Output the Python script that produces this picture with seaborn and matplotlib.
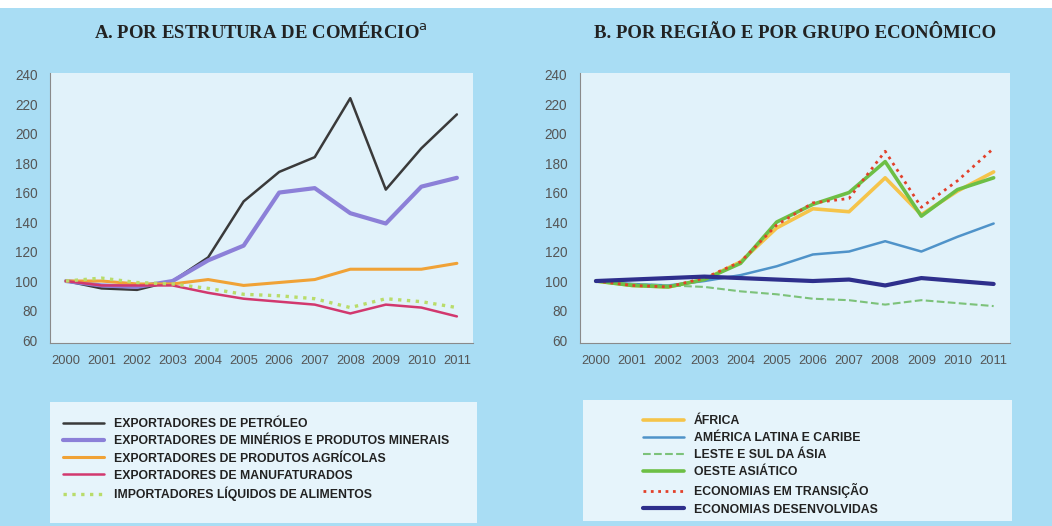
import numpy as np
import pandas as pd
import seaborn as sns
import matplotlib.pyplot as plt
from matplotlib.patches import Rectangle

years = list(range(2000, 2012))

# painel A - por estrutura de comercio
petroleo = [100, 95, 94, 100, 116, 154, 174, 184, 224, 162, 190, 213]
minerais = [100, 97, 96, 100, 114, 124, 160, 163, 146, 139, 164, 170]
agricolas = [100, 100, 98, 98, 101, 97, 99, 101, 108, 108, 108, 112]
manufaturados = [100, 97, 97, 97, 92, 88, 86, 84, 78, 84, 82, 76]
alimentos = [100, 102, 99, 98, 95, 91, 90, 88, 82, 88, 86, 82]

# painel B - por regiao e grupo economico
africa = [100, 97, 96, 101, 113, 136, 149, 147, 170, 145, 161, 174]
america_latina = [100, 98, 97, 100, 104, 110, 118, 120, 127, 120, 130, 139]
leste_asia = [100, 98, 97, 96, 93, 91, 88, 87, 84, 87, 85, 83]
oeste_asia = [100, 97, 96, 101, 112, 140, 152, 160, 181, 144, 162, 170]
transicao = [100, 97, 96, 102, 113, 138, 153, 156, 188, 150, 168, 190]
desenvolvidas = [100, 101, 102, 103, 102, 101, 100, 101, 97, 102, 100, 98]

labels_a = ["EXPORTADORES DE PETRÓLEO",
            "EXPORTADORES DE MINÉRIOS E PRODUTOS MINERAIS",
            "EXPORTADORES DE PRODUTOS AGRÍCOLAS",
            "EXPORTADORES DE MANUFATURADOS",
            "IMPORTADORES LÍQUIDOS DE ALIMENTOS"]
labels_b = ["ÁFRICA", "AMÉRICA LATINA E CARIBE", "LESTE E SUL DA ÁSIA",
            "OESTE ASIÁTICO", "ECONOMIAS EM TRANSIÇÃO", "ECONOMIAS DESENVOLVIDAS"]
yticks = [60, 80, 100, 120, 140, 160, 180, 200, 220, 240]

sns.set_theme(style="white")
plt.rcParams['font.family'] = ['Liberation Sans', 'DejaVu Sans']

bg = "#a9ddf4"
panel = "#e1f2fa"

fig = plt.figure(figsize=(10.52, 5.26), dpi=100, facecolor=bg)
fig.patches.append(Rectangle((0, 1 - 8 / 526), 1, 8 / 526, transform=fig.transFigure,
                             facecolor="white", edgecolor="none", zorder=0))

ax_a = fig.add_axes([0.0475, 0.348, 0.402, 0.513])
ax_b = fig.add_axes([0.551, 0.348, 0.409, 0.513])
leg_a = fig.add_axes([0.0475, 0.006, 0.406, 0.23])
leg_b = fig.add_axes([0.554, 0.010, 0.408, 0.23])

series_a = [
    (petroleo, "#3a3a3a", "-", 1.8),
    (minerais, "#8c80d8", "-", 3.0),
    (agricolas, "#f0a236", "-", 2.2),
    (manufaturados, "#d2386e", "-", 1.8),
    (alimentos, "#b9dc6a", ":", 2.4),
]
series_b = [
    (africa, "#f5c44a", "-", 2.6),
    (america_latina, "#4f93c9", "-", 1.8),
    (leste_asia, "#7cc27a", "--", 1.5),
    (oeste_asia, "#6dbf45", "-", 2.6),
    (transicao, "#e2402a", ":", 2.0),
    (desenvolvidas, "#2e2f8c", "-", 3.0),
]


def draw_panel(ax, series, labels, title):
    ax.set_facecolor(panel)
    for (vals, color, ls, lw), lab in zip(series, labels):
        df = pd.DataFrame({"ano": years, "valor": vals})
        sns.lineplot(data=df, x="ano", y="valor", ax=ax, color=color,
                     linestyle=ls, linewidth=lw, label=lab, legend=False)
    ax.set_xlim(1999.55, 2011.45)
    ax.set_ylim(58, 241)
    ax.set_yticks(yticks)
    ax.set_xticks(years)
    ax.set_xticklabels([str(y) for y in years])
    ax.tick_params(axis="y", labelsize=9.8, colors="#555555", length=0, pad=9)
    ax.tick_params(axis="x", labelsize=9.3, colors="#555555", length=2,
                   direction="in", pad=9)
    for s in ["top", "right"]:
        ax.spines[s].set_visible(False)
    for s in ["left", "bottom"]:
        ax.spines[s].set_color("#8a8a8a")
        ax.spines[s].set_linewidth(0.8)
    ax.set_xlabel("")
    ax.set_ylabel("")
    ax.set_title(title, fontsize=13.5, fontweight="bold", family="Liberation Serif",
                 color="#222222", pad=25)


draw_panel(ax_a, series_a, labels_a, r"A. POR ESTRUTURA DE COMÉRCIO$^{\mathrm{a}}$")
draw_panel(ax_b, series_b, labels_b, "B. POR REGIÃO E POR GRUPO ECONÔMICO")


def draw_legend(lax, ax, x0, top):
    lax.set_facecolor("#e6f4fb")
    lax.set_xticks([])
    lax.set_yticks([])
    for s in lax.spines.values():
        s.set_visible(False)
    handles, labels = ax.get_legend_handles_labels()
    lg = lax.legend(handles, labels, loc="upper left", bbox_to_anchor=(x0, top),
                    frameon=False, fontsize=8.8, handlelength=3.3,
                    handletextpad=0.8, labelspacing=0.42, borderaxespad=0)
    for t in lg.get_texts():
        t.set_fontweight("bold")
        t.set_color("#222222")


draw_legend(leg_a, ax_a, 0.02, 0.905)
draw_legend(leg_b, ax_b, 0.13, 0.915)

fig.savefig("out.png", dpi=100, facecolor=bg)
